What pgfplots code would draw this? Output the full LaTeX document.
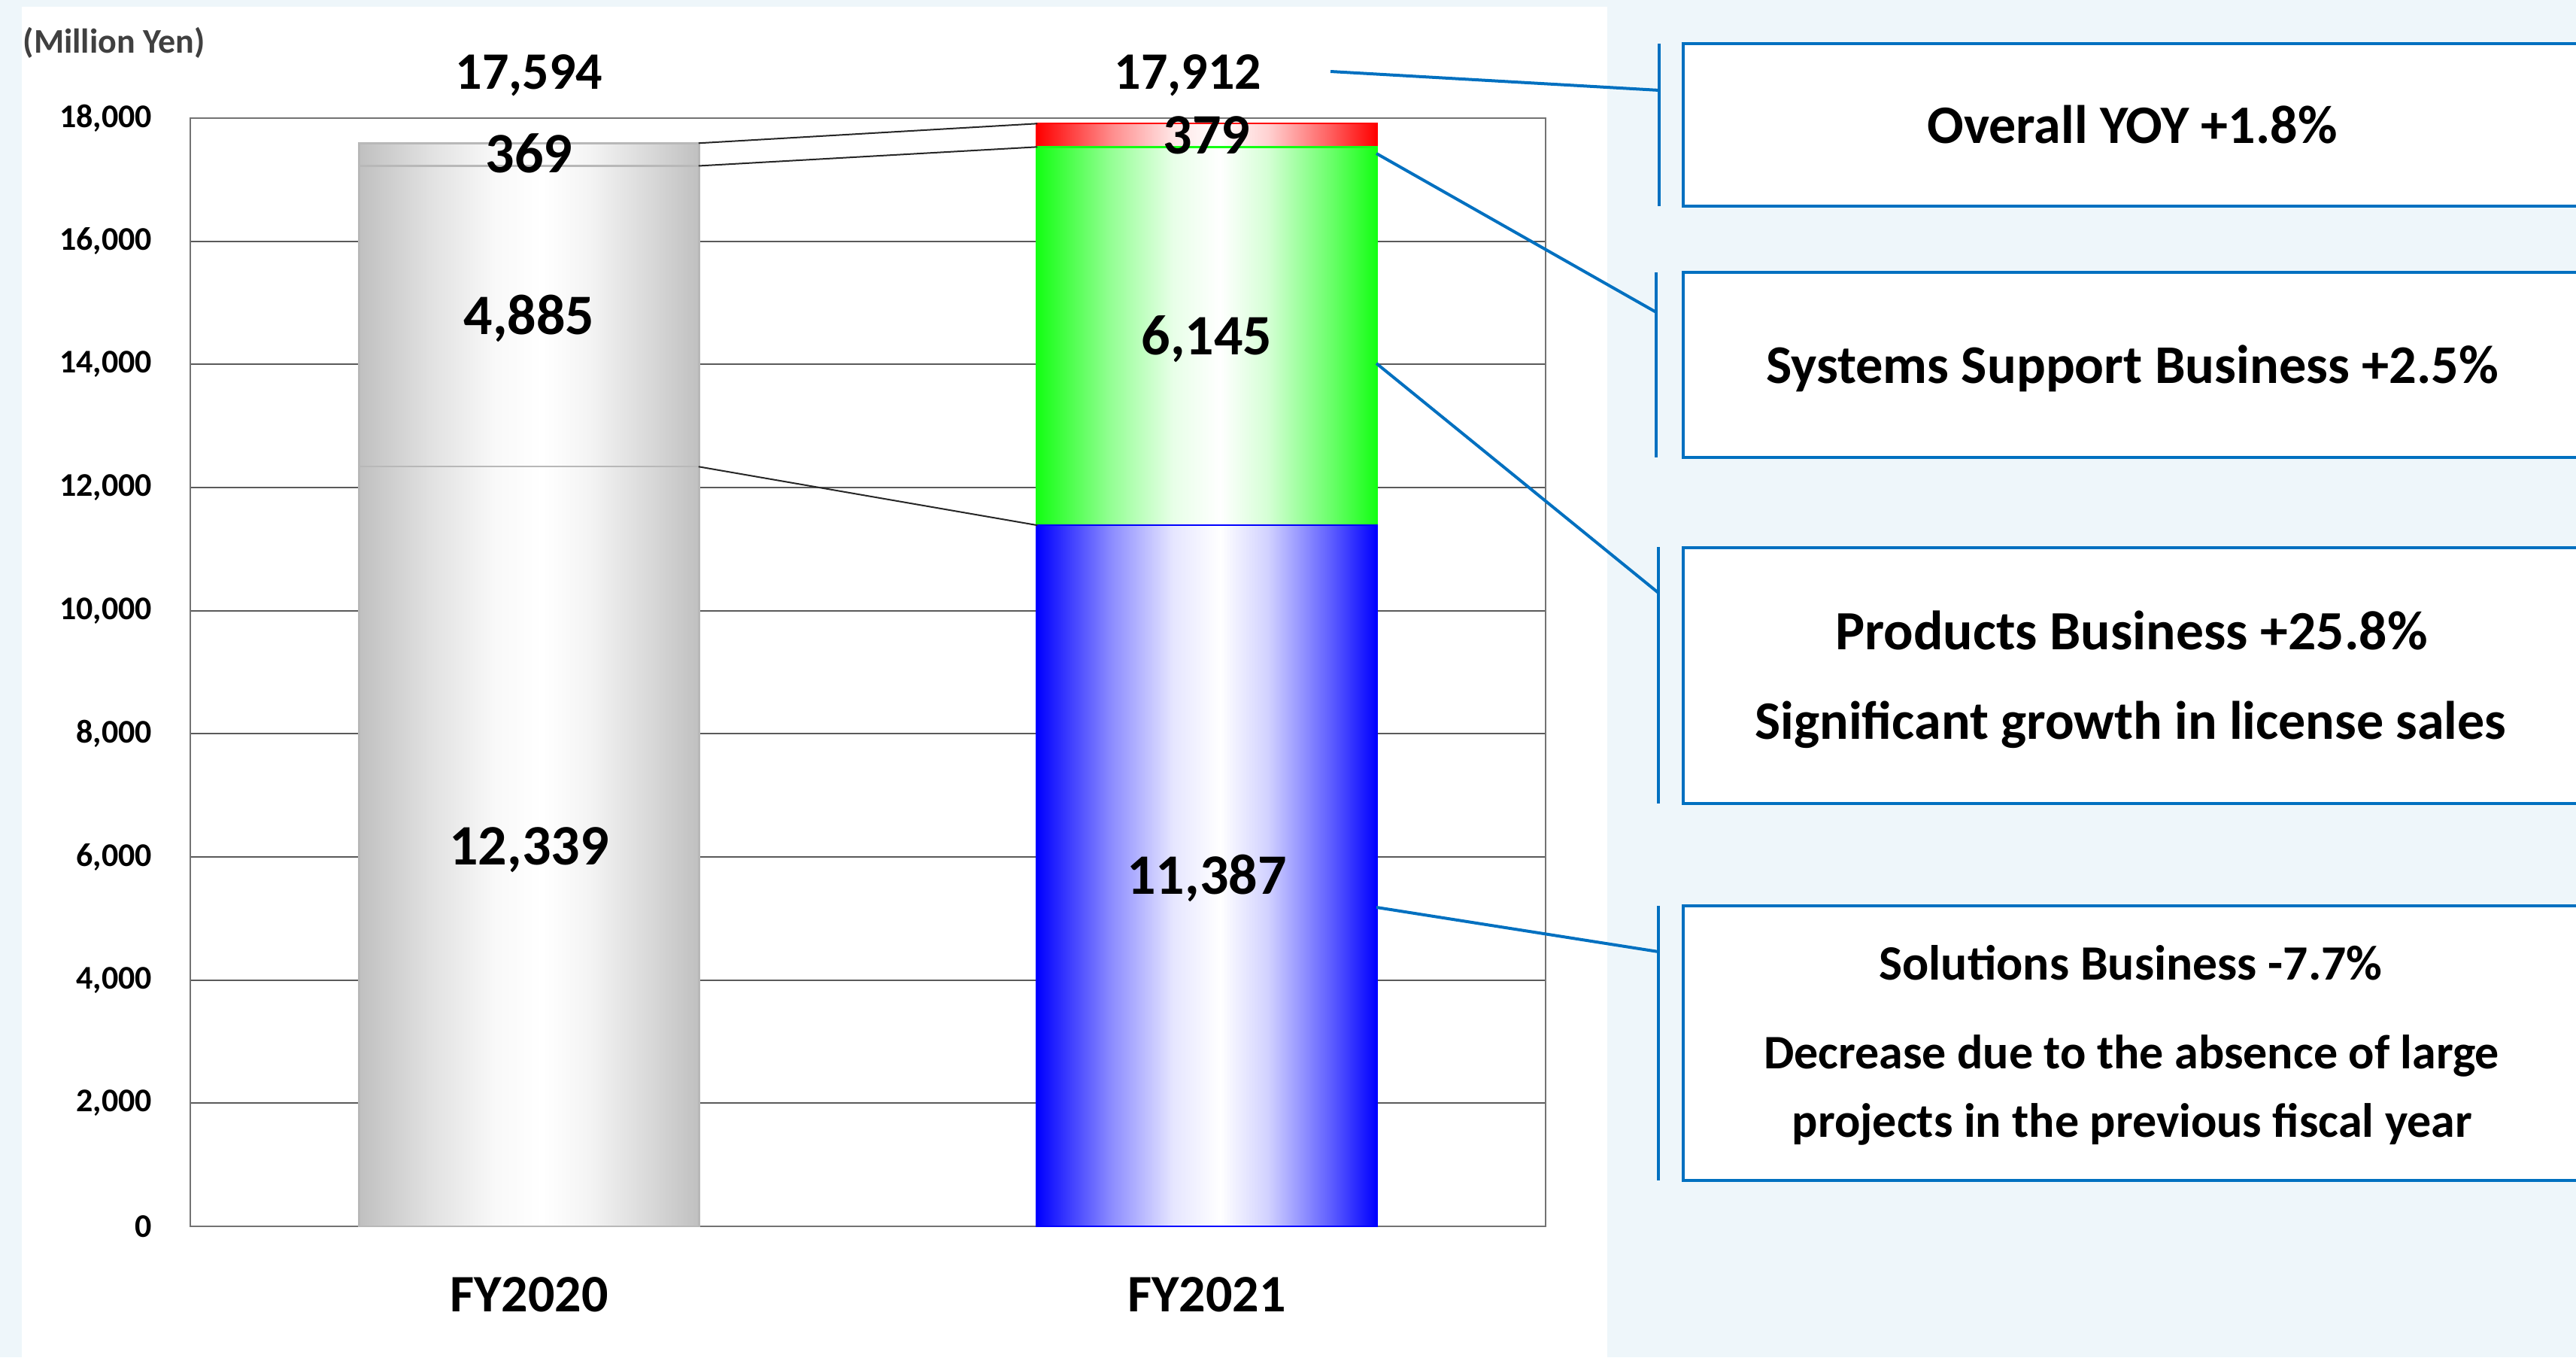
\documentclass[border=0pt]{standalone}
\usepackage{fontspec}
\setmainfont{Carlito}
\usepackage{pgfplots}
\pgfplotsset{compat=1.18}

\definecolor{panelbg}{RGB}{238,246,250}
\definecolor{callout}{RGB}{0,112,192}
\definecolor{barblue}{RGB}{0,0,255}
\definecolor{bargreen}{RGB}{20,255,20}
\definecolor{barred}{RGB}{255,0,0}
\definecolor{bargray}{RGB}{192,192,192}
\definecolor{gridgray}{RGB}{90,90,90}
\definecolor{unitgray}{RGB}{64,64,64}

% left-to-right cylinder-like gradient for the bars
% (only the band 25bp..75bp of a shading covers the filled path)
\newcommand\barshading[2]{%
  \pgfdeclarehorizontalshading{#1}{100bp}{%
    color(0bp)=(#2); color(25bp)=(#2); color(28bp)=(#2!85!white);
    color(36bp)=(#2!45!white); color(45bp)=(#2!10!white); color(52bp)=(white);
    color(59bp)=(#2!18!white); color(68bp)=(#2!62!white); color(75bp)=(#2);
    color(100bp)=(#2)}}
\barshading{grayshade}{bargray}
\barshading{blueshade}{barblue}
\barshading{greenshade}{bargreen}
\barshading{redshade}{barred}

\pgfplotsset{
  salesframe/.style={
    at={(63.25pt,43.5pt)}, anchor=south west,
    scale only axis, width=450.5pt, height=368.25pt,
    xmin=-0.5, xmax=1.5, ymin=0, ymax=18000,
  },
}
\tikzset{
  barfont/.style={font=\bfseries\fontsize{19}{22}\selectfont, anchor=base, inner sep=0pt, yshift=-6.1pt},
  totalfont/.style={font=\bfseries\fontsize{17.5}{20}\selectfont, anchor=base, inner sep=0pt},
}

\begin{document}
\begin{tikzpicture}
\useasboundingbox (0,0) rectangle (856.25pt,451pt);
\clip (0,0) rectangle (856.25pt,451pt);

% page background and chart panel
\begin{scope}[x=0.25pt,y=-0.25pt,shift={(0pt,451pt)}]
  \fill[panelbg] (0,0) rectangle (3425,1804);
  \fill[white] (29,9) rectangle (2137,1804);
  \node[anchor=base west, inner sep=0pt, text=unitgray,
        font=\bfseries\fontsize{11.5}{13}\selectfont] at (30,71) {(Million Yen)};
\end{scope}

% FY2020: grid, ticks and the grey stack
\begin{axis}[salesframe,
  ybar stacked, bar width=113pt,
  xtick={0,1}, xticklabels={FY2020,FY2021},
  ytick={0,2000,4000,6000,8000,10000,12000,14000,16000,18000},
  yticklabels={0,{2,000},{4,000},{6,000},{8,000},{10,000},{12,000},{14,000},{16,000},{18,000}},
  scaled y ticks=false,
  major tick length=0pt,
  ymajorgrids, grid style={draw=gridgray, line width=0.55pt},
  axis line style={draw=black!55, line width=0.5pt},
  yticklabel style={font=\bfseries\fontsize{11}{13}\selectfont, anchor=east, inner sep=0pt, xshift=-12.5pt},
  xticklabel style={font=\bfseries\fontsize{17.5}{20}\selectfont, anchor=base, inner sep=0pt, yshift=-28.25pt},
]
  \addplot[shade, shading=grayshade, draw=black!28, line width=0.6pt] coordinates {(0,12339)};
  \addplot[shade, shading=grayshade, draw=black!28, line width=0.6pt] coordinates {(0,4885)};
  \addplot[shade, shading=grayshade, draw=black!28, line width=0.6pt] coordinates {(0,369)};
\end{axis}

% FY2021: coloured stack by business
\begin{axis}[salesframe, hide axis, ybar stacked, bar width=113pt]
  \addplot[shade, shading=blueshade, draw=barblue, line width=0.6pt] coordinates {(1,11387)};
  \addplot[shade, shading=greenshade, draw=bargreen, line width=0.6pt] coordinates {(1,6145)};
  \addplot[shade, shading=redshade, draw=barred, line width=0.6pt] coordinates {(1,379)};
\end{axis}

% series lines and value labels
\begin{axis}[salesframe, hide axis, clip=false]
  \addplot[black!85, line width=0.5pt, mark=none] coordinates {(0.25,12339) (0.75,11387)};
  \addplot[black!85, line width=0.5pt, mark=none] coordinates {(0.25,17224) (0.75,17532)};
  \addplot[black!85, line width=0.5pt, mark=none] coordinates {(0.25,17593) (0.75,17911)};
  \node[barfont] at (axis cs:0,6169.5) {12,339};
  \node[barfont] at (axis cs:0,14781.5) {4,885};
  \node[barfont] at (axis cs:0,17408.5) {369};
  \node[barfont] at (axis cs:1,5693.5) {11,387};
  \node[barfont] at (axis cs:1,14459.5) {6,145};
  \node[barfont] at (axis cs:1,17721.5) {379};
  \node[totalfont] at (axis cs:0,18470) {17,594};
  \node[totalfont] at (axis cs:0.972,18470) {17,912};
\end{axis}

% callouts
\begin{scope}[x=0.25pt,y=-0.25pt,shift={(0pt,451pt)}, draw=callout, line width=1pt]
  \draw (1769,95) -- (2206,120);
  \draw (1830,204) -- (2202,415);
  \draw (1830,483) -- (2205,788);
  \draw (1830,1206) -- (2205,1265);
  \draw (2206,58) -- (2206,274);
  \draw (2202,362) -- (2202,608);
  \draw (2205,727) -- (2205,1068);
  \draw (2205,1204) -- (2205,1569);
  \draw[fill=white, line width=1.2pt] (2238,58) rectangle (3480,274);
  \draw[fill=white, line width=1.2pt] (2238,362) rectangle (3480,608);
  \draw[fill=white, line width=1.2pt] (2238,728) rectangle (3480,1068);
  \draw[fill=white, line width=1.2pt] (2238,1204) rectangle (3480,1569);
  \begin{scope}[every node/.style={anchor=base, inner sep=0pt}]
    \node[font=\bfseries\fontsize{18}{21}\selectfont] at (2835,191) {Overall YOY +1.8\%};
    \node[font=\bfseries\fontsize{18.1}{21}\selectfont] at (2835,509) {Systems Support Business +2.5\%};
    \node[font=\bfseries\fontsize{18.4}{21}\selectfont] at (2834,863) {Products Business +25.8\%};
    \node[font=\bfseries\fontsize{18}{21}\selectfont] at (2833,982) {Significant growth in license sales};
    \node[font=\bfseries\fontsize{16.4}{19}\selectfont] at (2833,1302) {Solutions Business -7.7\%};
    \node[font=\bfseries\fontsize{16}{18}\selectfont] at (2834,1420) {Decrease due to the absence of large};
    \node[font=\bfseries\fontsize{16}{18}\selectfont] at (2835,1511) {projects in the previous fiscal year};
  \end{scope}
\end{scope}
\end{tikzpicture}
\end{document}
